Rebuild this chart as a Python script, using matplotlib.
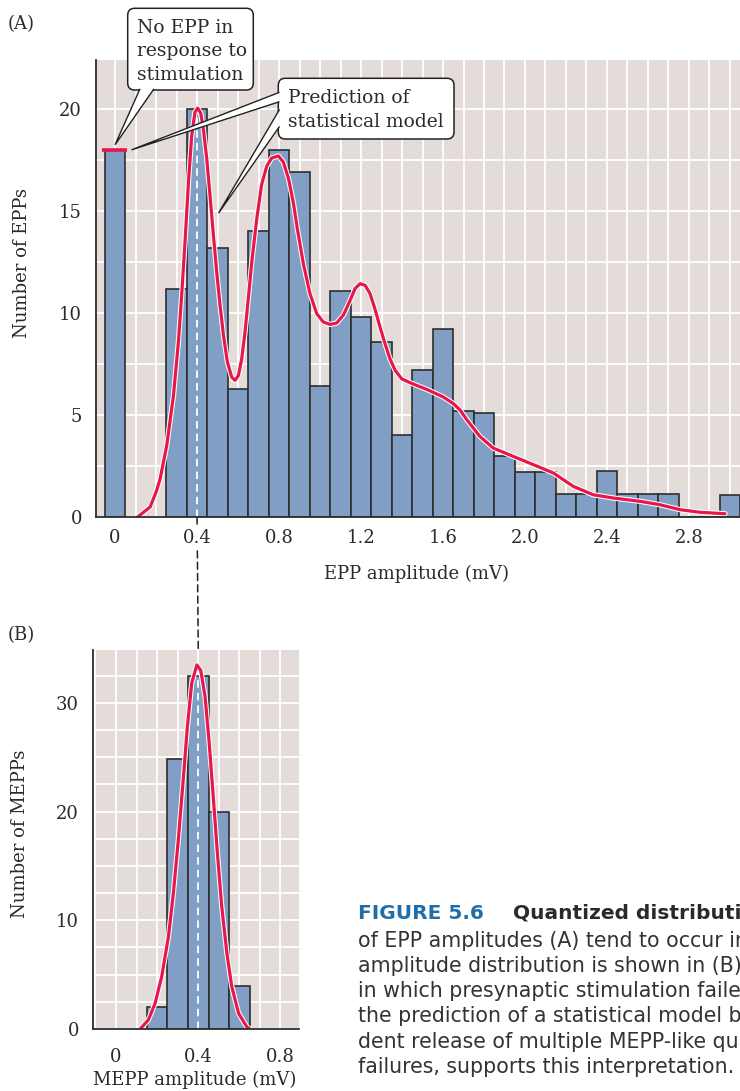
import matplotlib
matplotlib.use("Agg")
import matplotlib.pyplot as plt
import matplotlib.patheffects as pe
from matplotlib.patches import FancyBboxPatch, Polygon, ConnectionPatch
from matplotlib.ticker import MultipleLocator

# ---- data ----
# (A) EPP amplitude histogram, bin centres in mV
epp_amp = [0.0, 0.3, 0.4, 0.5, 0.6, 0.7, 0.8, 0.9, 1.0, 1.1, 1.2, 1.3, 1.4, 1.5,
           1.6, 1.7, 1.8, 1.9, 2.0, 2.1, 2.2, 2.3, 2.4, 2.5, 2.6, 2.7, 2.8, 2.9, 3.0]
epp_count = [18.0, 11.2, 20.0, 13.2, 6.3, 14.0, 18.0, 16.9, 6.4, 11.1, 9.8, 8.6, 4.0, 7.2,
             9.2, 5.2, 5.1, 3.0, 2.2, 2.2, 1.15, 1.15, 2.25, 1.15, 1.15, 1.15, 0, 0, 1.1]
epp_fail_pred = 18.0

# model prediction (red curve)
epp_fit_amp = [0.11, 0.171, 0.203, 0.22, 0.252, 0.285, 0.309, 0.325, 0.342, 0.358, 0.374,
               0.39, 0.403, 0.418, 0.431, 0.447, 0.463, 0.48, 0.496, 0.512, 0.529, 0.548,
               0.569, 0.585, 0.602, 0.618, 0.634, 0.65, 0.667, 0.691, 0.715, 0.74, 0.764,
               0.797, 0.821, 0.846, 0.87, 0.889, 0.919, 0.951, 0.984, 1.016, 1.049, 1.081,
               1.114, 1.146, 1.171, 1.195, 1.22, 1.244, 1.268, 1.293, 1.317, 1.341, 1.366,
               1.398, 1.431, 1.472, 1.52, 1.602, 1.65, 1.683, 1.716, 1.78, 1.845, 1.943,
               2.04, 2.138, 2.236, 2.333, 2.431, 2.561, 2.659, 2.756, 2.854, 2.976]
epp_fit_count = [0.0, 0.49, 1.3, 1.88, 3.5, 5.96, 8.58, 10.87, 13.6, 16.4, 18.7,
                 19.85, 20.05, 19.8, 19.0, 17.6, 15.8, 13.8, 12.0, 10.4, 8.9, 7.6,
                 6.86, 6.7, 6.94, 7.76, 9.07, 10.7, 12.5, 14.6, 16.3, 17.2, 17.6,
                 17.7, 17.4, 16.6, 15.4, 14.15, 12.4, 10.95, 9.97, 9.56, 9.44, 9.51,
                 9.9, 10.6, 11.2, 11.44, 11.36, 10.95, 10.2, 9.3, 8.5, 7.76, 7.2,
                 6.78, 6.62, 6.45, 6.26, 5.88, 5.56, 5.25, 4.77, 3.95, 3.38, 2.97,
                 2.57, 2.16, 1.5, 1.09, 0.93, 0.77, 0.6, 0.36, 0.23, 0.16]

# (B) MEPP amplitude histogram
mepp_amp = [0.2, 0.3, 0.4, 0.5, 0.6]
mepp_count = [2.0, 24.8, 32.5, 20.0, 4.0]
mepp_fit_amp = [0.117, 0.157, 0.19, 0.222, 0.255, 0.279, 0.303, 0.328, 0.347, 0.368, 0.393,
                0.412, 0.433, 0.452, 0.474, 0.493, 0.514, 0.539, 0.563, 0.596, 0.636, 0.652]
mepp_fit_count = [0.0, 0.83, 2.36, 4.8, 8.5, 12.5, 17.4, 23.2, 27.8, 31.8, 33.5,
                  33.0, 30.6, 26.6, 21.1, 16.2, 11.3, 7.0, 3.9, 1.44, 0.2, 0.0]

quantum = 0.4  # mean MEPP amplitude (dashed line)

epp_xticks = [0, 0.4, 0.8, 1.2, 1.6, 2.0, 2.4, 2.8]
epp_xticklabels = ['0', '0.4', '0.8', '1.2', '1.6', '2.0', '2.4', '2.8']
epp_yticks = [0, 5, 10, 15, 20]
mepp_xticks = [0, 0.4, 0.8]
mepp_xticklabels = ['0', '0.4', '0.8']
mepp_yticks = [0, 10, 20, 30]

caption = [
    "of EPP amplitudes (A) tend to occur in integer multiples of the mean amplitude of MEPPs, whose",
    "amplitude distribution is shown in (B). The leftmost bar in the EPP amplitude distribution",
    "in which presynaptic stimulation failed to elicit an EPP in the muscle cell. The red curve",
    "the prediction of a statistical model based on the assumption that the EPPs result from the indepen-",
    "dent release of multiple MEPP-like quanta. The observed match, including the predicted number of",
    "failures, supports this interpretation.",
]

# ---- styling ----
W, H = 740, 1091
BG = '#e3dcd8'
BAR = '#819ec4'
RED = '#e8174b'
EDGE = '#2e2e2e'
TXT = '#2a2a2a'
plt.rcParams['font.family'] = ['DejaVu Serif']

fig = plt.figure(figsize=(W / 100, H / 100), dpi=100)


def frac(l, t, r, b):
    return [l / W, 1 - b / H, (r - l) / W, (b - t) / H]


def px(x, y):
    # image pixel position -> inches from bottom left
    return (x / 100, (H - y) / 100)


axA = fig.add_axes(frac(96, 59.5, 740, 517))
axB = fig.add_axes(frac(93, 650, 299, 1029))


def style(ax, xlim, ylim, xt, xtl, yt, xpad):
    ax.set_facecolor(BG)
    ax.set_xlim(*xlim)
    ax.set_ylim(*ylim)
    ax.set_xticks(xt)
    ax.set_xticklabels(xtl)
    ax.set_yticks(yt)
    ax.xaxis.set_minor_locator(MultipleLocator(0.1))
    ax.yaxis.set_minor_locator(MultipleLocator(2.5))
    ax.grid(which='both', color='white', lw=1.3)
    ax.set_axisbelow(True)
    ax.tick_params(which='both', length=0, labelsize=13, colors=TXT)
    ax.tick_params(axis='y', pad=10)
    ax.tick_params(axis='x', pad=xpad)
    for s in ['top', 'right']:
        ax.spines[s].set_visible(False)
    for s in ['left', 'bottom']:
        ax.spines[s].set_color(EDGE)
        ax.spines[s].set_linewidth(1.3)
        ax.spines[s].set_zorder(5)


style(axA, (-0.093, 3.049), (0, 22.43), epp_xticks, epp_xticklabels, epp_yticks, 9)
style(axB, (-0.112, 0.89), (0, 34.87), mepp_xticks, mepp_xticklabels, mepp_yticks, 14)
for lab in axA.get_xticklabels():
    lab.set_bbox(dict(fc='white', ec='none', pad=1.5))

outline = [pe.Stroke(linewidth=3.8, foreground='white'), pe.Normal()]

for ax, amp, cnt, fx, fy in [(axA, epp_amp, epp_count, epp_fit_amp, epp_fit_count),
                             (axB, mepp_amp, mepp_count, mepp_fit_amp, mepp_fit_count)]:
    ax.bar(amp, cnt, width=0.1, color=BAR, edgecolor=EDGE, linewidth=1.2, zorder=2)
    ax.axvline(quantum, color='white', lw=1.3, ls=(0, (4.2, 2.8)), zorder=3)
    ax.plot(fx, fy, color=RED, lw=2.3, solid_joinstyle='round', solid_capstyle='round',
            path_effects=outline, zorder=4)

axA.hlines(epp_fail_pred, epp_amp[0] - 0.065, epp_amp[0] + 0.057, color=RED, lw=2.6, zorder=4)

# dashed link between the two panels at the quantal size
con = ConnectionPatch(xyA=(quantum, 0), coordsA=axA.transData,
                      xyB=(quantum, axB.get_ylim()[1]), coordsB=axB.transData,
                      color='#222222', lw=1.1, ls=(0, (4.6, 2.8)), zorder=-1)
fig.add_artist(con)

# ---- callouts ----
fig.canvas.draw()
to_in = fig.dpi_scale_trans.inverted()


def data_in(ax, x, y):
    return tuple(to_in.transform(ax.transData.transform((x, y))))


def box(l, t, r, b):
    p = FancyBboxPatch(px(l, b), (r - l) / 100, (b - t) / 100,
                       boxstyle='round,pad=0,rounding_size=0.07',
                       transform=fig.dpi_scale_trans, fc='white', ec='#222222', lw=1.1, zorder=6)
    fig.add_artist(p)


def tail(b1, tip, b2):
    p = Polygon([b1, tip, b2], closed=False, transform=fig.dpi_scale_trans,
                fc='white', ec='#222222', lw=1.0, joinstyle='miter', zorder=7)
    fig.add_artist(p)


box(127.7, 8.3, 253.3, 90)
tail(px(140, 88.8), data_in(axA, 0.0, 18.25), px(154, 88.8))
box(278.3, 78.3, 454, 139)
tail(px(279.5, 92.3), data_in(axA, 0.08, 18.0), px(279.5, 101.7))
tail(px(279.5, 109.5), data_in(axA, 0.505, 14.9), px(279.5, 126.5))

for s, y in [('No EPP in', 32.7), ('response to', 56.5), ('stimulation', 80)]:
    fig.text(136.7 / W, 1 - y / H, s, ha='left', va='baseline', fontsize=13.5, color=TXT, zorder=8)
for s, y in [('Prediction of', 103.3), ('statistical model', 126.7)]:
    fig.text(288.3 / W, 1 - y / H, s, ha='left', va='baseline', fontsize=13.5, color=TXT, zorder=8)

# ---- panel letters and axis labels ----
fig.text(8 / W, 1 - 29 / H, '(A)', ha='left', va='baseline', fontsize=13, color=TXT)
fig.text(8 / W, 1 - 640 / H, '(B)', ha='left', va='baseline', fontsize=13, color=TXT)
fig.text(417 / W, 1 - 574 / H, 'EPP amplitude (mV)', ha='center', va='center', fontsize=13, color=TXT)
fig.text(22 / W, 1 - 263 / H, 'Number of EPPs', ha='center', va='center', rotation=90,
         fontsize=13, color=TXT)
fig.text(195 / W, 1 - 1080 / H, 'MEPP amplitude (mV)', ha='center', va='center', fontsize=13, color=TXT)
fig.text(20 / W, 1 - 834 / H, 'Number of MEPPs', ha='center', va='center', rotation=90,
         fontsize=13, color=TXT)

# ---- caption (runs off the right edge like the crop) ----
cap_font = ['DejaVu Sans']
fig.text(358 / W, 1 - 919.3 / H, 'FIGURE 5.6', ha='left', va='baseline', fontsize=14.5,
         family=cap_font, weight='bold', color='#1f6eaa')
fig.text(513 / W, 1 - 919.3 / H, 'Quantized distribution of EPP amplitudes evoked', ha='left',
         va='baseline', fontsize=14.5, family=cap_font, weight='bold', color=TXT)
for i, line in enumerate(caption):
    fig.text(358 / W, 1 - (946.7 + 25.2 * i) / H, line, ha='left', va='baseline', fontsize=14.8,
             family=cap_font, color='#333333')

fig.savefig('out.png', dpi=100)
